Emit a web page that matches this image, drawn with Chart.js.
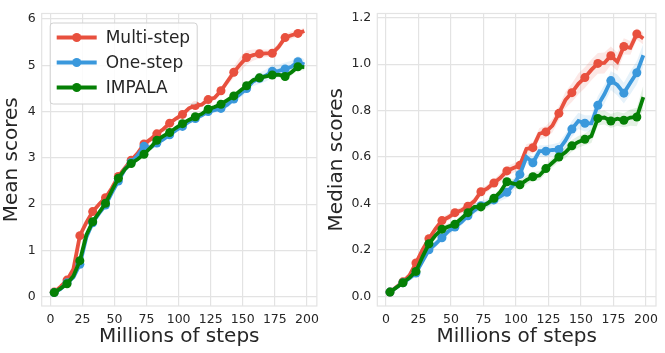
<!DOCTYPE html>
<html>
<head>
<meta charset="utf-8">
<script src="https://cdn.jsdelivr.net/npm/chart.js@4.4.0/dist/chart.umd.min.js"></script>
<style>
  html, body { margin: 0; padding: 0; background: #fff; }
  #wrap { position: relative; width: 665px; height: 353px; }
  .box { position: absolute; top: 0; height: 353px; }
</style>
</head>
<body>
<div id="wrap">
  <div class="box" style="left:0;width:325px"><canvas id="mean"></canvas></div>
  <div class="box" style="left:325px;width:340px"><canvas id="median"></canvas></div>
</div>
<script>
const steps = [3, 8, 13, 18, 23, 28, 33, 38, 43, 48, 53, 58, 63, 68, 73, 78, 83, 88, 93, 98,
  103, 108, 113, 118, 123, 128, 133, 138, 143, 148, 153, 158, 163, 168, 173, 178, 183, 188, 193, 198];
const xTicks = [0, 25, 50, 75, 100, 125, 150, 175, 200];
const meanTicks = [0, 1, 2, 3, 4, 5, 6];
const medianTicks = [0, 0.2, 0.4, 0.6, 0.8, 1.0, 1.2];
const seriesNames = ['Multi-step', 'One-step', 'IMPALA'];

// mean scores
const meanMulti = [0.1, 0.22, 0.36, 0.6, 1.32, 1.6, 1.84, 2.0, 2.14, 2.35, 2.6, 2.78, 2.95, 3.1, 3.3, 3.4, 3.52, 3.62, 3.75, 3.85,
  3.94, 4.07, 4.13, 4.15, 4.26, 4.3, 4.45, 4.65, 4.85, 5.02, 5.17, 5.22, 5.25, 5.26, 5.26, 5.4, 5.6, 5.65, 5.69, 5.74];
const meanOne = [0.09, 0.17, 0.3, 0.42, 0.7, 1.28, 1.6, 1.8, 1.98, 2.25, 2.5, 2.75, 2.9, 3.05, 3.25, 3.22, 3.32, 3.4, 3.5, 3.6,
  3.68, 3.78, 3.85, 3.92, 4.0, 4.03, 4.07, 4.15, 4.27, 4.38, 4.5, 4.65, 4.72, 4.78, 4.87, 4.88, 4.92, 4.97, 5.08, 5.02];
const meanImpala = [0.09, 0.18, 0.28, 0.45, 0.78, 1.33, 1.62, 1.82, 2.02, 2.3, 2.56, 2.75, 2.88, 2.97, 3.08, 3.22, 3.38, 3.47, 3.55, 3.65,
  3.74, 3.82, 3.89, 3.95, 4.05, 4.1, 4.16, 4.25, 4.34, 4.45, 4.56, 4.68, 4.73, 4.76, 4.79, 4.8, 4.76, 4.85, 4.97, 4.96];
// half width of the shaded band
const meanMultiErr = [0.02, 0.03, 0.04, 0.06, 0.06, 0.05, 0.05, 0.04, 0.04, 0.05, 0.05, 0.05, 0.05, 0.05, 0.06, 0.06, 0.05, 0.05, 0.05, 0.05,
  0.05, 0.05, 0.05, 0.05, 0.05, 0.05, 0.06, 0.08, 0.12, 0.16, 0.15, 0.12, 0.1, 0.08, 0.08, 0.08, 0.08, 0.08, 0.07, 0.07];
const meanOneErr = [0.02, 0.03, 0.04, 0.05, 0.06, 0.05, 0.05, 0.04, 0.04, 0.04, 0.05, 0.05, 0.05, 0.06, 0.07, 0.06, 0.05, 0.05, 0.05, 0.05,
  0.05, 0.05, 0.05, 0.05, 0.05, 0.05, 0.06, 0.06, 0.07, 0.08, 0.09, 0.1, 0.12, 0.13, 0.14, 0.14, 0.14, 0.13, 0.12, 0.11];
const meanImpalaErr = [0.02, 0.02, 0.03, 0.04, 0.05, 0.04, 0.04, 0.04, 0.04, 0.04, 0.04, 0.04, 0.04, 0.04, 0.04, 0.04, 0.04, 0.04, 0.04, 0.04,
  0.04, 0.04, 0.04, 0.04, 0.04, 0.04, 0.04, 0.04, 0.05, 0.05, 0.05, 0.05, 0.05, 0.05, 0.05, 0.06, 0.07, 0.07, 0.07, 0.07];

// median scores
const medianMulti = [0.018, 0.04, 0.062, 0.09, 0.143, 0.2, 0.248, 0.29, 0.326, 0.34, 0.36, 0.37, 0.388, 0.41, 0.45, 0.465, 0.488, 0.51, 0.54, 0.552,
  0.564, 0.635, 0.64, 0.7, 0.708, 0.735, 0.788, 0.845, 0.877, 0.915, 0.942, 0.975, 1.003, 1.005, 1.036, 1.01, 1.076, 1.07, 1.13, 1.11];
const medianOne = [0.018, 0.038, 0.058, 0.078, 0.1, 0.15, 0.2, 0.225, 0.252, 0.28, 0.298, 0.32, 0.347, 0.37, 0.39, 0.4, 0.415, 0.43, 0.448, 0.48,
  0.525, 0.6, 0.575, 0.625, 0.625, 0.63, 0.632, 0.67, 0.72, 0.755, 0.745, 0.745, 0.823, 0.87, 0.929, 0.91, 0.875, 0.92, 0.963, 1.038];
const medianImpala = [0.018, 0.038, 0.058, 0.08, 0.107, 0.17, 0.226, 0.262, 0.289, 0.3, 0.31, 0.335, 0.36, 0.385, 0.385, 0.4, 0.422, 0.45, 0.493, 0.485,
  0.48, 0.5, 0.515, 0.52, 0.55, 0.575, 0.6, 0.62, 0.648, 0.665, 0.676, 0.69, 0.766, 0.77, 0.755, 0.765, 0.758, 0.77, 0.772, 0.858];
const medianMultiErr = [0.005, 0.008, 0.01, 0.012, 0.015, 0.015, 0.015, 0.015, 0.015, 0.015, 0.015, 0.015, 0.015, 0.015, 0.015, 0.015, 0.015, 0.02, 0.02, 0.02,
  0.02, 0.02, 0.025, 0.025, 0.025, 0.03, 0.03, 0.035, 0.04, 0.045, 0.045, 0.045, 0.045, 0.045, 0.04, 0.04, 0.035, 0.03, 0.025, 0.025];
const medianOneErr = [0.005, 0.008, 0.01, 0.012, 0.015, 0.015, 0.015, 0.015, 0.015, 0.015, 0.015, 0.015, 0.015, 0.015, 0.02, 0.02, 0.02, 0.02, 0.025, 0.025,
  0.025, 0.025, 0.025, 0.025, 0.025, 0.025, 0.03, 0.03, 0.035, 0.035, 0.035, 0.035, 0.04, 0.04, 0.04, 0.045, 0.045, 0.05, 0.05, 0.05];
const medianImpalaErr = [0.005, 0.008, 0.01, 0.012, 0.015, 0.015, 0.015, 0.015, 0.015, 0.015, 0.015, 0.015, 0.015, 0.015, 0.015, 0.015, 0.015, 0.015, 0.015, 0.02,
  0.02, 0.02, 0.02, 0.02, 0.02, 0.02, 0.02, 0.025, 0.025, 0.025, 0.025, 0.03, 0.03, 0.03, 0.03, 0.03, 0.03, 0.035, 0.04, 0.05];

const colors = ['#e8503e', '#3a98dc', '#058005'];
const fills = ['rgba(232,80,62,0.13)', 'rgba(58,152,220,0.13)', 'rgba(5,128,5,0.11)'];
const FONT = 'DejaVu Sans';
const GRID = '#e3e3e3';
const TEXT = '#262626';
const LINE_W = 3.8;
const DOT_R = 4.5;

function pts(ys) {
  return ys.map((y, i) => ({ x: steps[i], y }));
}

function buildDatasets(series, errs) {
  const out = [];
  series.forEach((ys, s) => {
    out.push({
      label: seriesNames[s] + ' low',
      data: ys.map((y, i) => ({ x: steps[i], y: y - errs[s][i] })),
      borderWidth: 0, pointRadius: 0, fill: false, order: 10 + s
    });
    out.push({
      label: seriesNames[s] + ' high',
      data: ys.map((y, i) => ({ x: steps[i], y: y + errs[s][i] })),
      borderWidth: 0, pointRadius: 0, fill: '-1', backgroundColor: fills[s], order: 10 + s
    });
  });
  series.forEach((ys, s) => {
    out.push({
      label: seriesNames[s],
      data: pts(ys),
      borderColor: colors[s],
      backgroundColor: colors[s],
      borderWidth: LINE_W,
      pointRadius: c => (c.dataIndex % 2 === 0 ? DOT_R : 0),
      pointBorderWidth: 0,
      fill: false,
      order: 3 - s
    });
  });
  return out;
}

// frame round the plot area
const framePlugin = {
  id: 'frame',
  afterDraw(chart) {
    const a = chart.chartArea;
    const c = chart.ctx;
    c.save();
    c.strokeStyle = GRID;
    c.lineWidth = 1.2;
    c.strokeRect(a.left, a.top, a.right - a.left, a.bottom - a.top);
    c.restore();
  }
};

// matplotlib style legend: line with a marker, then the name
const legendPlugin = {
  id: 'mlegend',
  afterDraw(chart, args, opts) {
    if (!opts.show) return;
    const c = chart.ctx;
    const x0 = chart.chartArea.left + opts.dx;
    const y0 = chart.chartArea.top + opts.dy;
    const w = 147, h = 81;
    c.save();
    c.fillStyle = 'rgba(255,255,255,0.85)';
    c.strokeStyle = '#d0d0d0';
    c.lineWidth = 1;
    c.beginPath();
    c.roundRect(x0 + 0.5, y0 + 0.5, w, h, 3);
    c.fill();
    c.stroke();
    c.font = '17px ' + FONT;
    c.textBaseline = 'middle';
    seriesNames.forEach((name, i) => {
      const y = y0 + 15 + i * 25;
      c.strokeStyle = colors[i];
      c.lineWidth = LINE_W;
      c.beginPath();
      c.moveTo(x0 + 7, y);
      c.lineTo(x0 + 47, y);
      c.stroke();
      c.fillStyle = colors[i];
      c.beginPath();
      c.arc(x0 + 27, y, DOT_R, 0, Math.PI * 2);
      c.fill();
      c.fillStyle = TEXT;
      c.fillText(name, x0 + 56, y + 1);
    });
    c.restore();
  }
};

function makeChart(id, series, errs, yTicks, yMin, yMax, yTitle, yDigits, leftW, padRight, showLegend) {
  return new Chart(document.getElementById(id), {
    type: 'line',
    data: { datasets: buildDatasets(series, errs) },
    plugins: [framePlugin, legendPlugin],
    options: {
      responsive: true,
      maintainAspectRatio: false,
      animation: false,
      layout: { padding: { top: 6, right: padRight, left: 0, bottom: 0 } },
      elements: { line: { tension: 0 } },
      plugins: {
        legend: { display: false },
        tooltip: { enabled: false },
        mlegend: { show: showLegend, dx: 8, dy: 9 }
      },
      scales: {
        x: {
          type: 'linear',
          min: -6.75,
          max: 207.75,
          afterBuildTicks: ax => { ax.ticks = xTicks.map(v => ({ value: v })); },
          afterFit: ax => { ax.height = 47; },
          grid: { color: GRID, lineWidth: 1.2, drawTicks: false },
          border: { display: false },
          ticks: { color: TEXT, font: { family: FONT, size: 12.5 }, padding: 6, maxRotation: 0 },
          title: { display: true, text: 'Millions of steps', color: TEXT, font: { family: FONT, size: 20 }, padding: { top: 0, bottom: 4 } }
        },
        y: {
          min: yMin,
          max: yMax,
          afterBuildTicks: ax => { ax.ticks = yTicks.map(v => ({ value: v })); },
          afterFit: ax => { ax.width = leftW; },
          grid: { color: GRID, lineWidth: 1.2, drawTicks: false },
          border: { display: false },
          ticks: { color: TEXT, font: { family: FONT, size: 12.5 }, padding: 6, callback: v => v.toFixed(yDigits) },
          title: { display: true, text: yTitle, color: TEXT, font: { family: FONT, size: 20 }, padding: { top: 0, bottom: 0 } }
        }
      }
    }
  });
}

makeChart('mean', [meanMulti, meanOne, meanImpala], [meanMultiErr, meanOneErr, meanImpalaErr],
  meanTicks, -0.2, 6.12, 'Mean scores', 0, 41.7, 4.3, true);
makeChart('median', [medianMulti, medianOne, medianImpala], [medianMultiErr, medianOneErr, medianImpalaErr],
  medianTicks, -0.042, 1.218, 'Median scores', 1, 52.3, 9, false);
</script>
</body>
</html>
